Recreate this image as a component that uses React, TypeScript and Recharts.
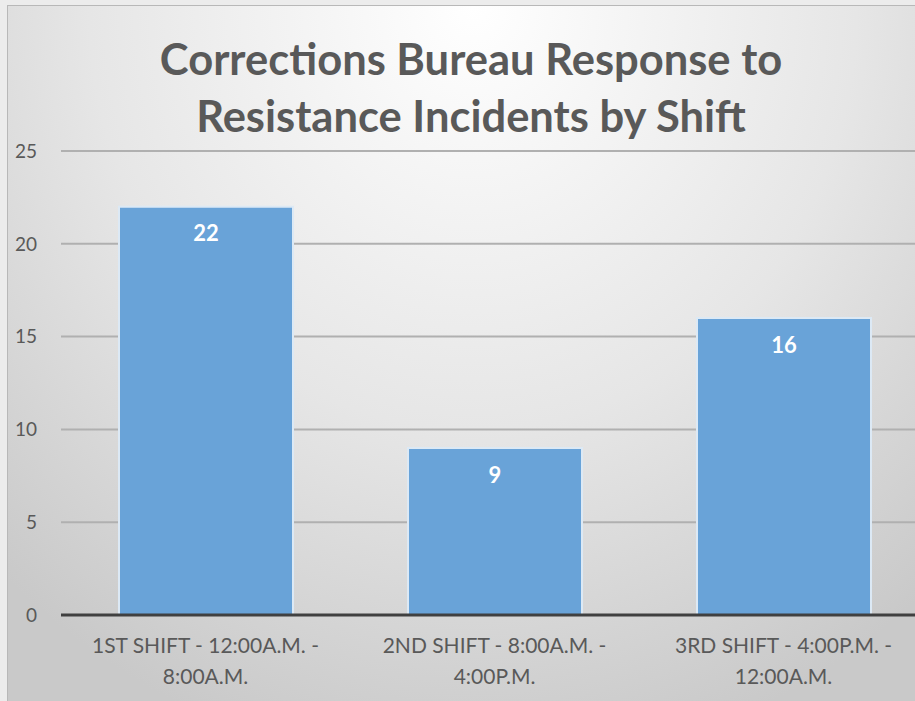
import { BarChart, Bar, XAxis, YAxis, CartesianGrid, LabelList } from 'recharts';

const shifts = [
  '1ST SHIFT - 12:00A.M. - 8:00A.M.',
  '2ND SHIFT - 8:00A.M. - 4:00P.M.',
  '3RD SHIFT - 4:00P.M. - 12:00A.M.',
];
const incidents = [22, 9, 16];
const yTicks = [0, 5, 10, 15, 20, 25];
const titleLines = ['Corrections Bureau Response to', 'Resistance Incidents by Shift'];

const data = shifts.map((shift, i) => ({ shift, incidents: incidents[i] }));

const FONT = 'Lato, "Open Sans", sans-serif';
const TEXT = '#595959';

// splits "X - a - b" into "X - a -" / "b"
function ShiftTick(props: any) {
  const { x, y, payload } = props;
  const s: string = payload.value;
  const idx = s.lastIndexOf(' - ');
  const first = s.slice(0, idx + 2);
  const second = s.slice(idx + 3);
  return (
    <g transform={`translate(${x},${y})`}>
      <text textAnchor="middle" fill={TEXT} fontSize={21} fontFamily={FONT}>
        <tspan x={0} dy={38}>{first}</tspan>
        <tspan x={0} dy={31}>{second}</tspan>
      </text>
    </g>
  );
}

export default function App() {
  return (
    <div style={{ position: 'absolute', left: 0, top: 0, width: 915, height: 701, overflow: 'hidden', background: '#ececec' }}>
      <div
        style={{
          position: 'absolute',
          left: 7,
          top: 5,
          width: 930,
          height: 700,
          borderTop: '1px solid #b8b8b8',
          borderLeft: '1px solid #b8b8b8',
          background: 'radial-gradient(ellipse 75% 110% at 50% 0%, #ffffff 0%, #e6e6e6 55%, #c9c9c9 100%)',
        }}
      >
        <div
          style={{
            position: 'absolute',
            left: 2,
            top: 24,
            width: 922,
            textAlign: 'center',
            fontFamily: FONT,
            fontWeight: 700,
            fontSize: 43.5,
            lineHeight: '57px',
            color: TEXT,
          }}
        >
          {titleLines.map((t) => (
            <div key={t}>{t}</div>
          ))}
        </div>
        <BarChart
          width={920}
          height={696}
          data={data}
          margin={{ top: 145, right: 0, bottom: 0, left: 0 }}
          barSize={174}
          style={{ position: 'absolute', left: 0, top: 0 }}
        >
          <CartesianGrid vertical={false} stroke="#b0b0b0" strokeWidth={2} />
          <XAxis
            dataKey="shift"
            height={87}
            tickSize={0}
            tickMargin={0}
            tick={<ShiftTick />}
            axisLine={{ stroke: '#404040', strokeWidth: 3 }}
            tickLine={false}
            interval={0}
          />
          <YAxis
            width={53}
            domain={[0, 25]}
            ticks={yTicks}
            tickSize={0}
            tickMargin={24}
            axisLine={false}
            tickLine={false}
            tick={{ fill: TEXT, fontSize: 19, fontFamily: FONT }}
          />
          <Bar dataKey="incidents" fill="#69a3d8" stroke="#dce9f5" strokeWidth={2} isAnimationActive={false}>
            <LabelList
              dataKey="incidents"
              position="insideTop"
              offset={19}
              fill="#ffffff"
              fontSize={22}
              fontWeight={700}
              fontFamily={FONT}
            />
          </Bar>
        </BarChart>
      </div>
    </div>
  );
}
